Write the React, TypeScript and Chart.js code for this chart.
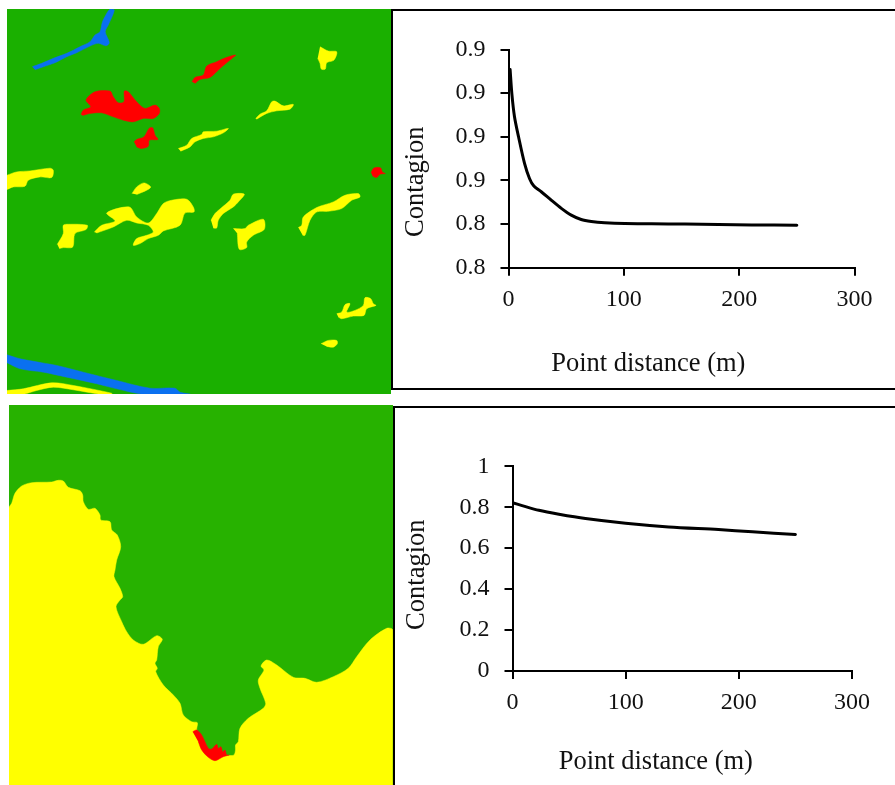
import React, { useEffect, useRef } from "react";
import { Chart, registerables } from "chart.js";

Chart.register(...registerables);

type P = [number, number];

// ---- top line chart ----
const topDistance = [1.4, 2.9, 5.2, 8.7, 13.9, 18.2, 22, 28.4, 37, 45.8, 54.4, 63, 71.8, 83.4, 100.8, 124, 153, 182, 211, 250];
const topContagion = [0.9108, 0.8998, 0.8892, 0.88, 0.8678, 0.8609, 0.8574, 0.8548, 0.851, 0.8472, 0.8441, 0.8421, 0.8412, 0.8406, 0.8402, 0.8401, 0.84, 0.8398, 0.8396, 0.8395];
const topYLabels = ["0.8", "0.8", "0.9", "0.9", "0.9", "0.9"];

// ---- bottom line chart ----
const bottomDistance = [0, 8.5, 23.3, 41, 64.5, 100, 138, 182, 212, 250];
const bottomContagion = [0.822, 0.808, 0.785, 0.766, 0.745, 0.722, 0.704, 0.691, 0.68, 0.667];
const bottomYLabels = ["0", "0.2", "0.4", "0.6", "0.8", "1"];

const xLabel = "Point distance (m)";
const yLabel = "Contagion";

// ---- top map outlines ----
const riverNorth: P[] = [[32.3,66.7],[41.7,63.3],[53.3,58.3],[66.7,53.3],[80,46.7],[90,41.7],[95,35],[100,31.7],[102,23.3],[104,18.3],[110,9],[114.3,10],[108.3,25],[105.3,31.7],[109.3,42.7],[106,45.7],[98.3,43.3],[90,46],[76.7,52.7],[66.7,56.7],[55,62.7],[43.3,66.7],[35,69.7]];
const riverSouth: P[] = [[7,354.3],[20,358.3],[41.7,362.3],[56.7,365],[83.3,371.7],[116.7,380],[150,387.7],[175,387.7],[180,391.7],[190,393.7],[143.3,393.7],[116.7,388.3],[96.7,383.3],[66.7,376.7],[43.3,371.7],[20,368.3],[7,362.3]];
const redA: P[] = [[192,81.7],[195,77.3],[203.3,75],[206.7,66],[216.7,61.7],[226.7,57.3],[235.7,55],[230,60],[220,68.3],[210,77.3],[200,79.3],[195,83.3]];
const redB: P[] = [[81,114.3],[83.3,110],[90.7,106.7],[86,100],[95,91.7],[110,91],[113.3,96.7],[118.3,102.7],[124,101.7],[124.3,91],[128.3,91.7],[136.7,101.7],[145,108.3],[155,105],[159.3,108.3],[159.3,113.3],[153.3,118.3],[143.3,118.3],[133.3,121.7],[123.3,120],[113.3,116.7],[101.7,112.7],[90,113.3],[82.7,115.3]];
const redC: P[] = [[134,141.7],[136.7,139.3],[144,136.7],[149,128.3],[152.7,127.7],[155,135],[158,139.3],[149.3,140],[148.3,146],[141.7,148.3],[136.7,146.7]];
const redD: P[] = [[371,172.3],[374,167.7],[380.7,167.7],[382.3,171.7],[385.3,173.3],[380,174],[376.7,177.3],[372.7,176]];
const yellowA: P[] = [[320,46.7],[328.3,51],[336.7,51.7],[334,60],[326.7,62.7],[325.3,69],[321.3,69],[320,63.3],[317.7,58.3]];
const yellowB: P[] = [[255.7,118.3],[260,114],[266.7,110.7],[271.7,101.7],[275,101],[283.3,105.7],[293.3,104.3],[290,109],[276.7,110.7],[266.7,113.3],[256.7,119]];
const yellowC: P[] = [[178.3,148.3],[186.7,145],[191.7,138.3],[201.7,134.3],[203.3,131.7],[216.7,131],[228.3,128.3],[223.3,132.7],[213.3,136.7],[203.3,138.3],[195,141.7],[190,146.7],[180.7,151]];
const yellowD: P[] = [[7,175],[16.7,171.7],[30,170.7],[50,168],[53.3,170],[51.7,177.3],[40,176.7],[28.3,180],[25,186],[13.3,186.7],[7,189.3]];
const yellowE: P[] = [[132,193.3],[136.7,186.7],[144,182.7],[150.7,186.7],[146.7,190],[136.7,194.3]];
const yellowF: P[] = [[94.3,231.7],[101.7,225],[115,220.7],[106.7,212.7],[129.3,206.7],[136.7,216.7],[148.3,222.7],[156.7,213.3],[163.3,203.3],[171.7,200],[186.7,199],[193.3,206.7],[194,211.7],[185,212.7],[180,225],[163.3,230.7],[158.3,235],[148.3,238.3],[140,243.3],[133.3,245],[136.7,238.3],[146.7,235],[153.3,231.7],[148.3,225],[136.7,222.7],[126.7,220],[113.3,226.7],[96.7,232.7]];
const yellowG: P[] = [[57.3,244],[63.3,233.3],[63.3,225],[68.3,224],[87.3,225],[86,229.3],[75,233.3],[72.7,246.7],[63.3,247.3],[59.3,248.3]];
const yellowH: P[] = [[211,220],[215,213.3],[221.7,207.3],[230,200],[233.3,194],[244.3,194],[238.3,201.7],[233.3,206.7],[223.3,213.3],[218.3,220],[216.7,227.7],[213.3,227.7]];
const yellowI: P[] = [[233.3,228.3],[245,228.3],[248.3,225],[263.3,219],[264.3,229],[253.3,235],[246.7,241.7],[246.7,247.3],[239.3,249],[237.3,233.3]];
const yellowJ: P[] = [[298.3,227.3],[301.7,225],[303.3,216.7],[316.7,207.3],[333.3,201.7],[345,195],[358.3,193.3],[360,196.7],[351.7,200],[341.7,208.3],[328.3,211],[316.7,211.7],[310,220],[305,235],[302.7,235]];
const yellowK: P[] = [[336.7,313.3],[341.7,311.7],[345,304.3],[350,303.3],[346.7,311.7],[355,310],[363.3,305],[365,297.3],[370.7,298.3],[373.3,303.3],[376,305],[366.7,308.3],[364,315],[353.3,315.7],[341.7,318.3],[338.3,316.7]];
const yellowL: P[] = [[321,343.3],[328.3,340],[336.7,340],[337.3,343.3],[333.3,346.7],[326.7,346]];
const yellowM: P[] = [[7,390],[23.3,388.3],[51.7,382.3],[73.3,385],[111.7,392.7],[111.7,393.7],[100,393.7],[73.3,389.3],[53.3,386.7],[36.7,390],[23.3,393.7],[7,393.7]];

// ---- bottom map outlines ----
const coastYellow: P[] = [[9,785],[9,507.7],[11.7,503.3],[15,493.3],[21.7,486],[31.7,482.7],[51.7,482],[58.3,480.3],[63.3,481],[68.3,487.3],[80,490.7],[82.7,495],[83.3,501.7],[88.3,509.3],[95,508.3],[100,515],[100.7,520],[110,521.7],[111.7,530],[117.3,535],[120.7,546.7],[116.7,560],[115,570],[114,576.7],[120,588.3],[122.7,596.7],[120,600],[116,606.7],[121.7,621.7],[126.7,631.7],[133.3,640],[143.3,644.3],[156.7,635.7],[162.3,639.3],[158.3,646.7],[156.7,660],[155,663.3],[157.3,668.3],[155.7,671.7],[163.3,685],[173.3,695],[180,703.3],[183.3,715],[191.7,721.7],[197.3,722.7],[196.7,730],[200,742],[210,754],[220,756],[229,755.5],[234,755],[235.5,750],[235.5,745],[238.3,741.7],[240,728.3],[248.3,718.3],[263.3,708.3],[265.7,703.3],[260,688.3],[258.3,680],[264,670],[261,666],[266.7,660],[276.7,665],[293.3,677.3],[305,678.3],[316.7,682.3],[333.3,676.7],[348.3,668.3],[356.7,656.7],[370,640],[386.7,628.3],[392.7,630],[392.7,785]];
const coastRed: P[] = [[192.7,731.7],[196.7,730],[201.7,735],[208.3,748.3],[211.7,749],[216.7,744.3],[218.3,748.3],[221,746.7],[222.7,751.7],[225,750],[226.7,755],[229.3,755],[223.3,756.7],[215,760.7],[208.3,757.3],[201.7,750],[198.3,741.7]];

const YELLOW = "#FFFF00";
const RED = "#FF0000";
const BLUE = "#0A70F0";

const topMapShapes: [P[], string][] = [
  [riverNorth, BLUE], [riverSouth, BLUE],
  [redA, RED], [redB, RED], [redC, RED], [redD, RED],
  [yellowA, YELLOW], [yellowB, YELLOW], [yellowC, YELLOW], [yellowD, YELLOW], [yellowE, YELLOW],
  [yellowF, YELLOW], [yellowG, YELLOW], [yellowH, YELLOW], [yellowI, YELLOW], [yellowJ, YELLOW],
  [yellowK, YELLOW], [yellowL, YELLOW], [yellowM, YELLOW],
];
const bottomMapShapes: [P[], string][] = [[coastRed, RED], [coastYellow, YELLOW]];

const FONT = "'Liberation Serif', serif";
const INK = "#111111";

function makeMap(canvas: HTMLCanvasElement, shapes: [P[], string][], box: { x: number; y: number; w: number; h: number }) {
  return new Chart(canvas, {
    type: "line",
    data: {
      datasets: shapes.map(([pts, color]) => ({
        data: pts.map(([x, y]) => ({ x, y })),
        fill: "shape",
        backgroundColor: color,
        borderColor: color,
        borderWidth: 0.5,
        pointRadius: 0,
        tension: 0.3,
      })),
    } as any,
    options: {
      responsive: false,
      animation: false,
      layout: { padding: 0 },
      plugins: { legend: { display: false }, tooltip: { enabled: false } },
      scales: {
        x: { type: "linear", display: false, min: box.x, max: box.x + box.w },
        y: { type: "linear", display: false, min: box.y, max: box.y + box.h, reverse: true },
      },
    } as any,
  });
}

interface LineCfg {
  distance: number[];
  contagion: number[];
  yLabels: string[];
  yMin: number;
  yMax: number;
  yStep: number;
  canvasLeft: number;
  canvasTop: number;
  canvasW: number;
  canvasH: number;
  areaLeft: number;
  areaRight: number;
  areaTop: number;
  areaBottom: number;
  xTitleAt: [number, number];
  yTitleAt: [number, number];
  xTickPad: number;
}

function makeLine(canvas: HTMLCanvasElement, c: LineCfg) {
  const axisTitles = {
    id: "axisTitles",
    afterDraw(chart: any) {
      const ctx = chart.ctx;
      ctx.save();
      ctx.fillStyle = INK;
      ctx.font = `26.5px ${FONT}`;
      ctx.textAlign = "center";
      ctx.textBaseline = "middle";
      ctx.fillText(xLabel, c.xTitleAt[0] - c.canvasLeft, c.xTitleAt[1] - c.canvasTop);
      ctx.translate(c.yTitleAt[0] - c.canvasLeft, c.yTitleAt[1] - c.canvasTop);
      ctx.rotate(-Math.PI / 2);
      ctx.fillText(yLabel, 0, 0);
      ctx.restore();
    },
  };
  return new Chart(canvas, {
    type: "line",
    data: {
      datasets: [
        {
          data: c.distance.map((x, i) => ({ x, y: c.contagion[i] })),
          borderColor: "#000000",
          borderWidth: 3,
          borderCapStyle: "round",
          pointRadius: 0,
          tension: 0.3,
          fill: false,
        },
      ],
    } as any,
    options: {
      responsive: false,
      animation: false,
      layout: {
        padding: {
          top: c.areaTop - c.canvasTop,
          right: c.canvasLeft + c.canvasW - c.areaRight,
          left: 0,
          bottom: 0,
        },
      },
      plugins: { legend: { display: false }, tooltip: { enabled: false } },
      scales: {
        x: {
          type: "linear",
          min: 0,
          max: 300,
          afterFit: (s: any) => {
            s.height = c.canvasTop + c.canvasH - c.areaBottom;
          },
          border: { color: "#000000", width: 2 },
          grid: { drawOnChartArea: false, drawTicks: true, tickLength: 8, tickColor: "#000000", lineWidth: 2 },
          ticks: {
            stepSize: 100,
            padding: c.xTickPad,
            maxRotation: 0,
            color: INK,
            font: { family: FONT, size: 24 },
          },
        },
        y: {
          type: "linear",
          min: c.yMin,
          max: c.yMax,
          afterFit: (s: any) => {
            s.width = c.areaLeft - c.canvasLeft;
          },
          border: { color: "#000000", width: 2 },
          grid: { drawOnChartArea: false, drawTicks: true, tickLength: 8, tickColor: "#000000", lineWidth: 2 },
          ticks: {
            stepSize: c.yStep,
            padding: 15,
            autoSkip: false,
            color: INK,
            font: { family: FONT, size: 24 },
            callback: (_v: any, i: number) => c.yLabels[i],
          },
        },
      },
    } as any,
    plugins: [axisTitles],
  });
}

const abs = (left: number, top: number, width: number, height: number): React.CSSProperties => ({
  position: "absolute",
  left,
  top,
  width,
  height,
  display: "block",
});

export default function App() {
  const topMap = useRef<HTMLCanvasElement>(null);
  const bottomMap = useRef<HTMLCanvasElement>(null);
  const topLine = useRef<HTMLCanvasElement>(null);
  const bottomLine = useRef<HTMLCanvasElement>(null);

  useEffect(() => {
    const charts = [
      makeMap(topMap.current!, topMapShapes, { x: 7, y: 9, w: 384, h: 384.5 }),
      makeMap(bottomMap.current!, bottomMapShapes, { x: 9, y: 405, w: 384, h: 380 }),
      makeLine(topLine.current!, {
        distance: topDistance,
        contagion: topContagion,
        yLabels: topYLabels,
        yMin: 0.82,
        yMax: 0.92,
        yStep: 0.02,
        canvasLeft: 394,
        canvasTop: 12,
        canvasW: 501,
        canvasH: 376,
        areaLeft: 508.5,
        areaRight: 854.5,
        areaTop: 49.5,
        areaBottom: 267.7,
        xTitleAt: [648.3, 364.5],
        yTitleAt: [416, 181.7],
        xTickPad: 10,
      }),
      makeLine(bottomLine.current!, {
        distance: bottomDistance,
        contagion: bottomContagion,
        yLabels: bottomYLabels,
        yMin: 0,
        yMax: 1,
        yStep: 0.2,
        canvasLeft: 396,
        canvasTop: 409,
        canvasW: 499,
        canvasH: 376,
        areaLeft: 512.5,
        areaRight: 852,
        areaTop: 466.3,
        areaBottom: 671,
        xTitleAt: [655.8, 762.5],
        yTitleAt: [417, 574.7],
        xTickPad: 9,
      }),
    ];
    return () => charts.forEach((c) => c.destroy());
  }, []);

  return (
    <div style={{ position: "fixed", left: 0, top: 0, width: 895, height: 785, background: "#fff", overflow: "hidden" }}>
      <canvas ref={topMap} width={384} height={385} style={{ ...abs(7, 9, 384, 385), background: "#1AB000" }} />
      <canvas ref={bottomMap} width={384} height={380} style={{ ...abs(9, 405, 384, 380), background: "#27B200" }} />
      <div style={{ ...abs(391, 9, 520, 381), boxSizing: "border-box", border: "2px solid #000" }} />
      <div style={{ ...abs(393, 406, 520, 400), boxSizing: "border-box", border: "2px solid #000" }} />
      <canvas ref={topLine} width={501} height={376} style={abs(394, 12, 501, 376)} />
      <canvas ref={bottomLine} width={499} height={376} style={abs(396, 409, 499, 376)} />
    </div>
  );
}
